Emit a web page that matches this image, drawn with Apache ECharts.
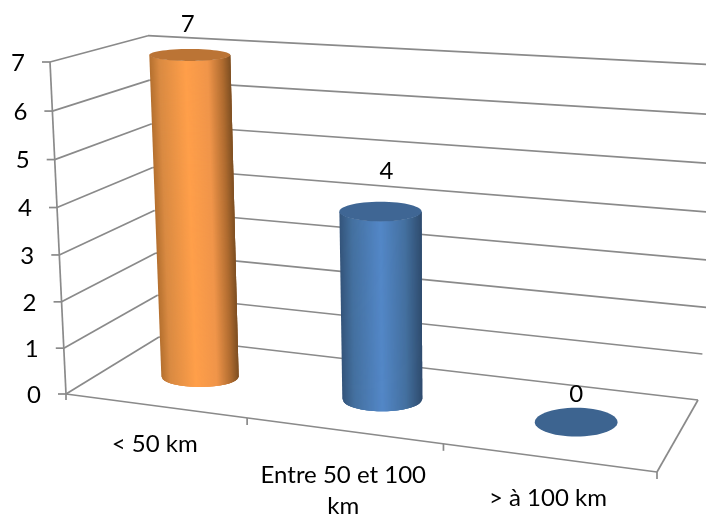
<!DOCTYPE html>
<html><head><meta charset="utf-8">
<style>html,body{margin:0;padding:0;background:#fff}#c{width:706px;height:516px}</style>
<script src="https://cdn.jsdelivr.net/npm/echarts@6/dist/echarts.min.js"></script>
</head><body><div id="c"></div>
<script>
const categories = ['< 50 km', 'Entre 50 et 100\nkm', '> à 100 km'];
const seriesValues = [7, 4, 0];
const yTickLabels = [0, 1, 2, 3, 4, 5, 6, 7];

const W = 706, H = 516, FONT = '24px Lato, "Open Sans", sans-serif';
const GRID = '#8A8A8A', TEXT = '#000';
// Screen corners of the 3D box (front/back, floor/top)
const A = [66, 394, 1], B = [657, 472, 1], C = [159, 337, 1], D = [698, 400, 1], E = [50, 62, 1], F = [148, 36, 1];
const det = (p, q, r) => p[0]*(q[1]*r[2]-q[2]*r[1]) - p[1]*(q[0]*r[2]-q[2]*r[0]) + p[2]*(q[0]*r[1]-q[1]*r[0]);
const kb = det(A, C, D) / det(B, C, D), kc = det(A, B, D) / det(C, B, D), ke = det(A, C, F) / det(E, C, F);
function project(u, v, w) {
  const o = [0, 1, 2].map(i => u*(kb*B[i]-A[i]) + v*(ke*E[i]-A[i]) + w*(kc*C[i]-A[i]) + A[i]);
  return [o[0]/o[2], o[1]/o[2]];
}
// flat axis coordinate -> normalised box coordinate
const vOf = (api, val) => (H - api.coord([0, val])[1]) / H;
const uOfBand = (api, i) => api.coord([i, 0])[0] / W;
const line = (p, q, width) => ({type:'line', shape:{x1:p[0],y1:p[1],x2:q[0],y2:q[1]}, style:{stroke:GRID, lineWidth:width||1.7}, silent:true});
const text = (s, x, y, extra) => ({type:'text', style:Object.assign({text:s, x, y, fill:TEXT, font:FONT, textAlign:'center', textVerticalAlign:'middle'}, extra||{})});
const SIDES = [
  [[0,[180,112,47]],[0.12,[217,138,66]],[0.45,[255,159,74]],[0.72,[240,149,74]],[0.9,[176,108,48]],[1,[126,79,34]]],
  [[0,[52,84,122]],[0.15,[68,112,159]],[0.5,[83,135,199]],[0.8,[68,112,159]],[1,[47,76,110]]],
  [[0,[52,84,122]],[0.5,[83,135,199]],[1,[47,76,110]]]
];
function shade(stops, f) {
  for (let k = 1; k < stops.length; k++) {
    if (f <= stops[k][0]) {
      const a = stops[k-1], b = stops[k], t = (f-a[0])/(b[0]-a[0]);
      return 'rgb(' + a[1].map((c,j)=>Math.round(c+(b[1][j]-c)*t)).join(',') + ')';
    }
  }
  return 'rgb(' + stops[stops.length-1][1].join(',') + ')';
}
const CAPS = ['#BB7435', '#3F6694', '#3D6490'];
const LABEL_DY = [38, 44, 40];
const BAR_DX = [0, 2, 1], BAR_DY = [2, 2, 1];
const VALUE_DX = [-2, 6, 0], VALUE_DY = [-31, -40, -28];
const STRIPS = 80;

const rxAt = (x, y) => 40.5 - 0.006*(y-54) + 0.008*(x-190);
const ryAt = (x, y) => 6 + 0.013*(y-54) + 0.0094*(x-190);
function ellipsePts(c) {
  const rx = rxAt(c[0], c[1]), ry = ryAt(c[0], c[1]), pts = [];
  for (let k = 0; k < 60; k++) { const t = 2*Math.PI*k/60; pts.push([c[0]+rx*Math.cos(t), c[1]+ry*Math.sin(t)]); }
  return pts;
}
function frontPt(c, f) { // point on the front half of the ellipse at width fraction f
  const rx = rxAt(c[0], c[1]), ry = ryAt(c[0], c[1]), s = 2*f-1;
  return [c[0]+rx*s, c[1]+ry*Math.sqrt(Math.max(0,1-s*s))];
}

function renderWall(params, api) {
  const val = api.value(1), v = vOf(api, val);
  const a = project(0, v, 0), b = project(0, v, 1), c = project(1 + 0.035*v, v, 1);
  return {type:'group', children:[
    line(a, b), line(b, c),
    line([a[0]-8, a[1]], a),
    text(String(val), a[0]-32, a[1]+1)
  ]};
}
function renderFloor(params, api) {
  const n = categories.length, v0 = vOf(api, 0), vTop = vOf(api, 7), children = [];
  const a = project(0,v0,0), b = project(1,v0,0), c = project(1,v0,1);
  children.push(line(a, project(0,vTop,0)), line(a,b), line(b,c), line(a,[a[0],a[1]+6]));
  for (let i = 1; i <= n; i++) { const p = project(i/n, v0, 0); children.push(line(p,[p[0],p[1]+7])); }
  categories.forEach((s, i) => {
    const p = project(uOfBand(api,i), v0, 0);
    children.push(text(s, p[0], p[1]+LABEL_DY[i]-15, {textVerticalAlign:'top', lineHeight:31}));
  });
  return {type:'group', children};
}
function renderBar(params, api) {
  const i = params.dataIndex, val = api.value(1), u = uOfBand(api, i);
  const nudge = p => [p[0]+BAR_DX[i], p[1]+BAR_DY[i]];
  const bot = nudge(project(u, vOf(api,0), 0.5)), top = nudge(project(u, vOf(api,val), 0.5));
  const children = [];
  if (val > 0) {
    for (let k = 0; k < STRIPS; k++) {
      // each strip runs on under the next one, so no seam shows between them
      const f0 = k/STRIPS, f1 = Math.min(1, (k+3)/STRIPS), col = shade(SIDES[i], (k+0.5)/STRIPS);
      children.push({type:'polygon', shape:{points:[frontPt(top,f0), frontPt(top,f1), frontPt(bot,f1), frontPt(bot,f0)]},
        style:{fill:col}});
    }
  }
  children.push({type:'polygon', shape:{points:ellipsePts(top)}, style:{fill:CAPS[i]}});
  children.push(text(String(val), top[0]+VALUE_DX[i], top[1]+VALUE_DY[i]));
  return {type:'group', children};
}

const chart = echarts.init(document.getElementById('c'), null, {renderer:'canvas'});
chart.setOption({
  animation:false,
  backgroundColor:'#fff',
  grid:{left:0, top:0, width:W, height:H},
  xAxis:{type:'category', data:categories, show:false},
  yAxis:{type:'value', min:0, max:7, interval:1, show:false},
  series:[
    {type:'custom', name:'walls', renderItem:renderWall, data:yTickLabels.map(v=>[0,v]), clip:false, z:1, silent:true},
    {type:'custom', name:'floor', renderItem:renderFloor, data:[[0,0]], clip:false, z:2, silent:true},
    {type:'custom', name:'values', renderItem:renderBar, data:seriesValues.map((v,i)=>[i,v]), clip:false, z:3, silent:true}
  ]
});
</script></body></html>
